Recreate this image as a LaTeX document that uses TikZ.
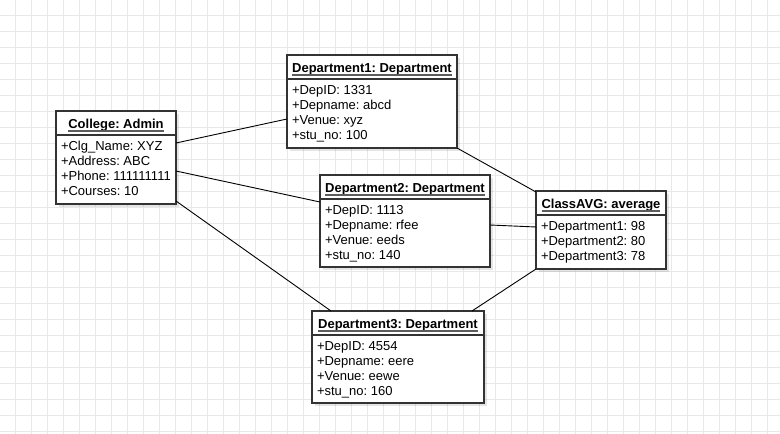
\documentclass[tikz,border=0pt]{standalone}
\usepackage{fontspec}
\setmainfont{Liberation Sans}
\usetikzlibrary{calc}
\frenchspacing
\definecolor{gridc}{HTML}{E8E8E8}
\definecolor{boxc}{HTML}{333333}
\tikzset{
  objbox/.style={draw=boxc, line width=1.3pt, fill=white, inner sep=0pt, outer sep=0pt, anchor=north west},
  shadowbox/.style={fill=black, fill opacity=0.10, draw=none, inner sep=0pt, outer sep=0pt, anchor=north west},
  hdr/.style={font=\fontsize{13}{15}\selectfont\bfseries, inner sep=0pt, outer sep=0pt, anchor=base},
  attr/.style={font=\fontsize{13}{15}\selectfont, inner sep=0pt, outer sep=0pt, anchor=base west},
  ulline/.style={draw=boxc!80, line width=1.6pt},
  divline/.style={draw=boxc, line width=1.1pt},
  conn/.style={draw=black, line width=0.9pt},
  gridline/.style={draw=gridc, line width=1pt}
}
\begin{document}
\begin{tikzpicture}[x=1pt,y=-1pt]
\useasboundingbox (0,0) rectangle (780,434);
\fill[white] (0,0) rectangle (780,434);
\foreach \g in {15,31,...,783} \draw[gridline] (\g,0) -- (\g,434);
\foreach \g in {15,31,...,431} \draw[gridline] (0,\g) -- (780,\g);

% shadows
\node[shadowbox, minimum width=120pt, minimum height=93pt] (colS) at (59,114) {};
\node[shadowbox, minimum width=170pt, minimum height=93pt] (d1S) at (290,58) {};
\node[shadowbox, minimum width=170pt, minimum height=92pt] (d2S) at (323,178) {};
\node[shadowbox, minimum width=130pt, minimum height=78pt] (avgS) at (539,194) {};
\node[shadowbox, minimum width=172pt, minimum height=92pt] (d3S) at (315,314) {};

% boxes
\node[objbox, minimum width=120pt, minimum height=93pt] (col) at (56,111) {};
\node[objbox, minimum width=170pt, minimum height=93pt] (d1) at (287,55) {};
\node[objbox, minimum width=170pt, minimum height=92pt] (d2) at (320,175) {};
\node[objbox, minimum width=130pt, minimum height=78pt] (avg) at (536,191) {};
\node[objbox, minimum width=172pt, minimum height=92pt] (d3) at (312,311) {};

% connectors (node to node)
\draw[conn] ($(col.north east)+(0,32)$) -- ($(d1.north west)+(0,64)$);
\draw[conn] ($(col.north east)+(0,60)$) -- ($(d2.north west)+(0,27)$);
\draw[conn] ($(col.north east)+(0,90)$) -- ($(d3.north west)+(19,0)$);
\draw[conn] (d1.south east) -- ($(avg.north west)+(0,1)$);
\draw[conn] ($(d2.north east)+(0,50)$) -- ($(avg.north west)+(0,36)$);
\draw[conn] ($(d3.north west)+(160,0)$) -- (avg.south west);

% dividers
\foreach \b in {col,d1,d2,avg,d3}
  \draw[divline] ($(\b.north west)+(0,24)$) -- ($(\b.north east)+(0,24)$);

% headers
\node[hdr] (colh) at ($(col.north)+(0,17)$) {College: Admin};
\node[hdr] (d1h) at ($(d1.north)+(0,17)$) {Department1: Department};
\node[hdr] (d2h) at ($(d2.north)+(0,17)$) {Department2: Department};
\node[hdr] (avgh) at ($(avg.north)+(0,17)$) {ClassAVG: average};
\node[hdr] (d3h) at ($(d3.north)+(0,17)$) {Department3: Department};
\foreach \h in {colh,d1h,d2h,avgh,d3h}
  \draw[ulline] ($(\h.base west)+(0,3)$) -- ($(\h.base east)+(0,3)$);

% attributes
\foreach \t [count=\i] in {+Clg\_Name: XYZ,+Address: ABC,+Phone: 111111111,+Courses: 10}
  \node[attr] (cola\i) at ($(col.north west)+(5,24.5+15*\i)$) {\t};
\foreach \t [count=\i] in {+DepID: 1331,+Depname: abcd,+Venue: xyz,+stu\_no: 100}
  \node[attr] (d1a\i) at ($(d1.north west)+(5,24.5+15*\i)$) {\t};
\foreach \t [count=\i] in {+DepID: 1113,+Depname: rfee,+Venue: eeds,+stu\_no: 140}
  \node[attr] (d2a\i) at ($(d2.north west)+(5,24.5+15*\i)$) {\t};
\foreach \t [count=\i] in {+Department1: 98,+Department2: 80,+Department3: 78}
  \node[attr] (avga\i) at ($(avg.north west)+(5,24.5+15*\i)$) {\t};
\foreach \t [count=\i] in {+DepID: 4554,+Depname: eere,+Venue: eewe,+stu\_no: 160}
  \node[attr] (d3a\i) at ($(d3.north west)+(5,24.5+15*\i)$) {\t};
\end{tikzpicture}
\end{document}
